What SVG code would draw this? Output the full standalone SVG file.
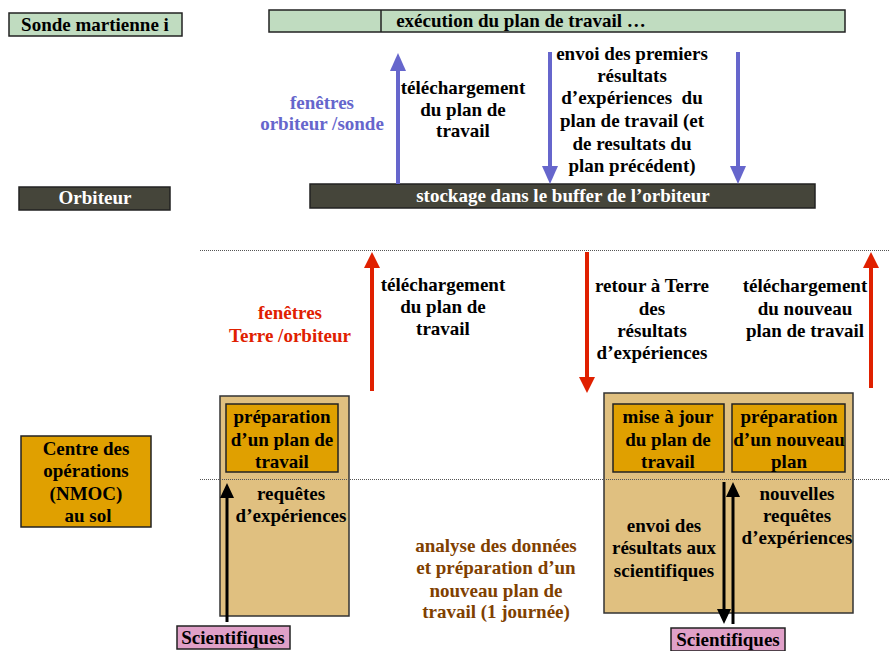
<svg xmlns="http://www.w3.org/2000/svg" width="890" height="651" viewBox="0 0 890 651">
<defs>
<style>
text{font-family:"Liberation Serif","Times New Roman",serif;font-weight:bold;font-size:19px;text-anchor:middle;fill:#000}
.w{fill:#fff}
.blue{fill:#6666cc}
.red{fill:#e02000}
.brown{fill:#804000}
.green{fill:#c0dcc0;stroke:#222;stroke-width:1.5}
.dark{fill:#45453a;stroke:#222;stroke-width:1.5}
.tan{fill:#e0c080;stroke:#333;stroke-width:1.5}
.orange{fill:#e0a000;stroke:#222;stroke-width:1.5}
.pink{fill:#e0a0c8;stroke:#222;stroke-width:1.5}
.dot{stroke:#555;stroke-width:1;stroke-dasharray:1 1;fill:none}
.lb{stroke:#6666cc;stroke-width:4;fill:none}
.lr{stroke:#e02000;stroke-width:4;fill:none}
.lk{stroke:#000;stroke-width:3;fill:none}
</style>
<marker id="mb" markerUnits="userSpaceOnUse" markerWidth="18" markerHeight="16" refX="0" refY="8" orient="auto"><path d="M0,0 L18,8 L0,16 z" fill="#6666cc"/></marker>
<marker id="mr" markerUnits="userSpaceOnUse" markerWidth="16" markerHeight="16" refX="0" refY="8" orient="auto"><path d="M0,0 L16,8 L0,16 z" fill="#e02000"/></marker>
<marker id="mk" markerUnits="userSpaceOnUse" markerWidth="15" markerHeight="14" refX="0" refY="7" orient="auto"><path d="M0,0 L15,7 L0,14 z" fill="#000"/></marker>
</defs>
<g id="sonde">
<rect class="green" x="9" y="13" width="173" height="23"/>
<text x="95" y="31">Sonde martienne i</text>
</g>
<g id="execution">
<rect class="green" x="269" y="10" width="576" height="22"/>
<line x1="381" y1="10" x2="381" y2="32" stroke="#222" stroke-width="1.5"/>
<text x="521" y="27">exécution du plan de travail …</text>
</g>
<g id="orbiteur">
<rect class="dark" x="19" y="187" width="151" height="23"/>
<text class="w" x="95" y="204">Orbiteur</text>
</g>
<g id="stockage">
<rect class="dark" x="310" y="184" width="505" height="24"/>
<text class="w" x="563" y="202">stockage dans le buffer de l’orbiteur</text>
</g>
<g id="centre">
<rect class="orange" x="21" y="436" width="130" height="91"/>
<text x="86" y="455">Centre des</text>
<text x="86" y="477">opérations</text>
<text x="86" y="500">(NMOC)</text>
<text x="88" y="522">au sol</text>
</g>
<g id="bloc-gauche">
<rect class="tan" x="220" y="396" width="129" height="220"/>
<rect class="orange" x="226" y="404" width="112" height="68"/>
<text x="282" y="423">préparation</text>
<text x="282" y="446">d’un plan de</text>
<text x="282" y="468">travail</text>
<text x="291" y="500">requêtes</text>
<text x="291" y="522">d’expériences</text>
</g>
<g id="bloc-droit">
<rect class="tan" x="604" y="393" width="249" height="220"/>
<rect class="orange" x="613" y="404" width="111" height="68"/>
<rect class="orange" x="732" y="404" width="113" height="68"/>
<text x="668" y="423">mise à jour</text>
<text x="668" y="446">du plan de</text>
<text x="668" y="468">travail</text>
<text x="789" y="423">préparation</text>
<text x="789" y="446">d’un nouveau</text>
<text x="789" y="468">plan</text>
<text x="664" y="532">envoi des</text>
<text x="664" y="554">résultats aux</text>
<text x="664" y="577">scientifiques</text>
<text x="797" y="500">nouvelles</text>
<text x="797" y="522">requêtes</text>
<text x="797" y="544">d’expériences</text>
</g>
<g id="sci-gauche">
<rect class="pink" x="177" y="626" width="113" height="23"/>
<text x="233" y="644">Scientifiques</text>
</g>
<g id="sci-droit">
<rect class="pink" x="671" y="628" width="114" height="23"/>
<text x="728" y="646">Scientifiques</text>
</g>

<g id="dotted">
<line class="dot" x1="200" y1="250.5" x2="890" y2="250.5"/>
<line class="dot" x1="200" y1="479.5" x2="890" y2="479.5"/>
</g>

<g id="connectors">
<line class="lb" x1="398" y1="184" x2="398" y2="71" marker-end="url(#mb)"/>
<line class="lb" x1="550" y1="52" x2="550" y2="166" marker-end="url(#mb)"/>
<line class="lb" x1="738" y1="52" x2="738" y2="166" marker-end="url(#mb)"/>
<line class="lr" x1="372" y1="391" x2="372" y2="268" marker-end="url(#mr)"/>
<line class="lr" x1="587" y1="252" x2="587" y2="377" marker-end="url(#mr)"/>
<line class="lr" x1="871" y1="388" x2="871" y2="268" marker-end="url(#mr)"/>
<line class="lk" x1="227" y1="622" x2="227" y2="498" marker-end="url(#mk)"/>
<line class="lk" x1="724" y1="482" x2="724" y2="609" marker-end="url(#mk)"/>
<line class="lk" x1="733" y1="624" x2="733" y2="497" marker-end="url(#mk)"/>
</g>

<g id="labels">
<text class="blue" x="322" y="109">fenêtres</text>
<text class="blue" x="322" y="130">orbiteur /sonde</text>
<text x="463" y="94">téléchargement</text>
<text x="463" y="116">du plan de</text>
<text x="463" y="137">travail</text>
<text x="632" y="60">envoi des premiers</text>
<text x="632" y="82">résultats</text>
<text x="632" y="104" xml:space="preserve">d’expériences  du</text>
<text x="632" y="127">plan de travail (et</text>
<text x="632" y="150">de resultats du</text>
<text x="632" y="172">plan précédent)</text>
<text class="red" x="290" y="319">fenêtres</text>
<text class="red" x="290" y="342">Terre /orbiteur</text>
<text x="443" y="291">téléchargement</text>
<text x="443" y="313">du plan de</text>
<text x="443" y="335">travail</text>
<text x="652" y="292">retour à Terre</text>
<text x="652" y="315">des</text>
<text x="652" y="337">résultats</text>
<text x="652" y="359">d’expériences</text>
<text x="805" y="292">téléchargement</text>
<text x="805" y="315">du nouveau</text>
<text x="805" y="337">plan de travail</text>
<text class="brown" x="496" y="552">analyse des données</text>
<text class="brown" x="496" y="574">et préparation d’un</text>
<text class="brown" x="496" y="597">nouveau plan de</text>
<text class="brown" x="496" y="618">travail (1 journée)</text>
</g>
</svg>
